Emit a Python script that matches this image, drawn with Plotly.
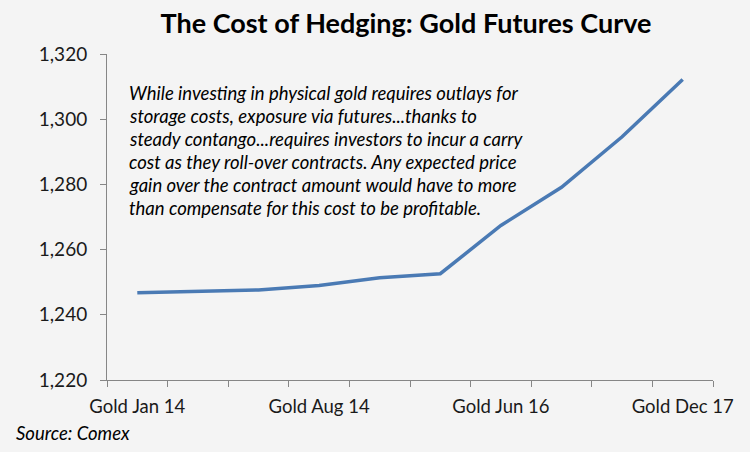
"""Gold futures curve (Comex) - the cost of hedging."""

import plotly.graph_objects as go

CONTRACTS = [
    "Gold Jan 14", "Gold Feb 14", "Gold Apr 14", "Gold Aug 14", "Gold Dec 14",
    "Gold Dec 15", "Gold Jun 16", "Gold Dec 16", "Gold Jun 17", "Gold Dec 17",
]
PRICES = [1246.8, 1247.2, 1247.6, 1249.0, 1251.4, 1252.6, 1267.4, 1279.1, 1294.6, 1312.2]
Y_TICKS = [1220, 1240, 1260, 1280, 1300, 1320]
NOTE_LINES = [
    "While investing in physical gold requires outlays for",
    "storage costs, exposure via futures...thanks to",
    "steady contango...requires investors to incur a carry",
    "cost as they roll-over contracts. Any expected price",
    "gain over the contract amount would have to more",
    "than compensate for this cost to be profitable.",
]

FONT = "Lato, Open Sans, sans-serif"
BG = "#f4f4f4"
AXIS = "#868686"

# plot area in pixels
L, R, T, B = 107, 37, 54, 72
PW, PH = 750 - L - R, 452 - T - B

positions = list(range(1, len(CONTRACTS) + 1))

fig = go.Figure()
fig.add_trace(go.Scatter(
    x=positions,
    y=PRICES,
    mode="lines",
    line=dict(color="#4a7ab4", width=3.5),
    text=CONTRACTS,
    hovertemplate="%{text}: %{y:,.1f}<extra></extra>",
))

fig.update_layout(
    width=750,
    height=452,
    margin=dict(l=L, r=R, t=T, b=B, autoexpand=False),
    paper_bgcolor=BG,
    plot_bgcolor=BG,
    showlegend=False,
    font=dict(family=FONT, color="#1a1a1a"),
    title=dict(
        text="<b>The Cost of Hedging: Gold Futures Curve</b>",
        x=406 / 750, xanchor="center",
        y=1 - 24 / 452, yanchor="middle",
        font=dict(size=27, color="#000000"),
    ),
)

fig.update_xaxes(
    range=[0.5, len(CONTRACTS) + 0.5],
    tickvals=positions[::3],
    ticktext=CONTRACTS[::3],
    ticks="",
    ticklabelstandoff=10,
    showline=True, linecolor=AXIS, linewidth=1,
    showgrid=False, zeroline=False,
    tickfont=dict(size=18.5),
    minor=dict(tick0=0.5, dtick=1, ticks="outside", ticklen=6,
               tickcolor=AXIS, showgrid=False),
)
fig.update_yaxes(
    range=[Y_TICKS[0], Y_TICKS[-1]],
    tickvals=Y_TICKS,
    tickformat=",d",
    ticks="outside", ticklen=6, tickcolor=AXIS,
    ticklabelstandoff=9,
    showline=True, linecolor=AXIS, linewidth=1,
    showgrid=False, zeroline=False,
    tickfont=dict(size=19),
)

for i, line in enumerate(NOTE_LINES):
    fig.add_annotation(
        text=f"<i>{line}</i>",
        xref="paper", yref="paper",
        x=(127 - L) / PW,
        y=1 - (93 + 23 * i - T) / PH,
        xanchor="left", yanchor="middle",
        showarrow=False,
        font=dict(size=18.5, color="#000000"),
    )

fig.add_annotation(
    text="<i>Source: Comex</i>",
    xref="paper", yref="paper",
    x=-(L - 14) / PW,
    y=-(433 - (T + PH)) / PH,
    xanchor="left", yanchor="middle",
    showarrow=False,
    font=dict(size=18.5, color="#000000"),
)

# drop the page's default body margin so the figure fills the window
fig.write_html(
    "out.html",
    config={"displayModeBar": False},
    post_script=f"document.body.style.margin='0';document.body.style.background='{BG}';",
)
